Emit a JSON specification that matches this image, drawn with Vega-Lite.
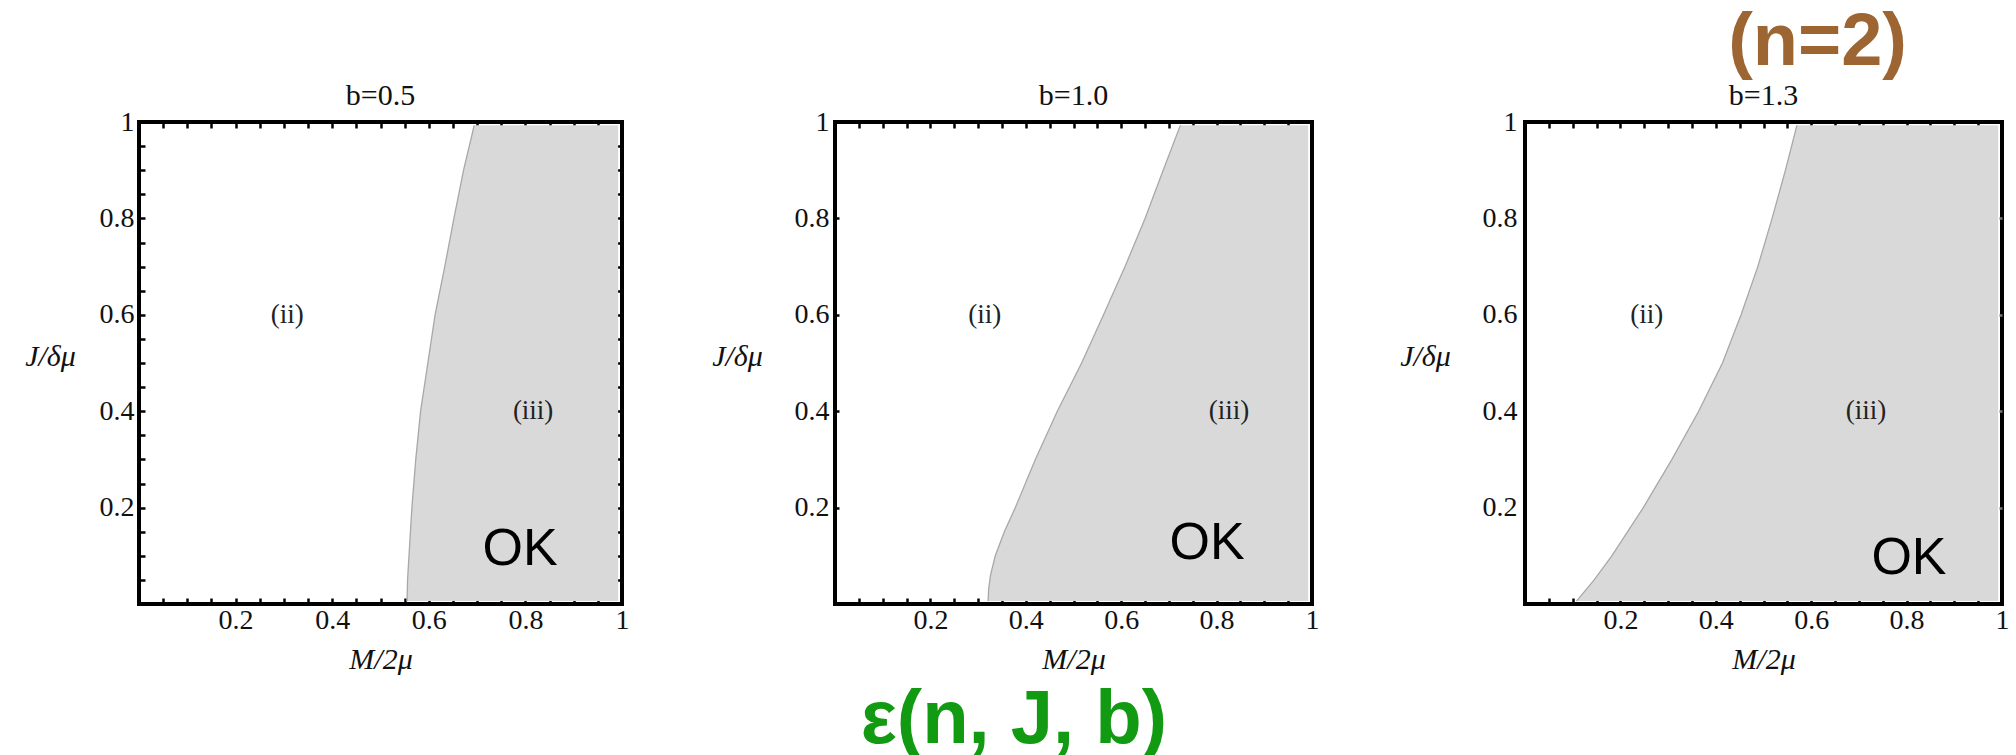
{
  "$schema": "https://vega.github.io/schema/vega-lite/v6.json",
  "padding": {"left": 22, "top": 6, "right": 0, "bottom": 0},
  "background": "white",
  "title": {
    "text": "(n=2)",
    "anchor": "end",
    "frame": "bounds",
    "dx": -104,
    "offset": -60,
    "baseline": "alphabetic",
    "font": "Liberation Sans",
    "fontWeight": "bold",
    "fontSize": 74,
    "color": "#9c6532"
  },
  "bounds": "flush",
  "spacing": 213,
  "config": {
    "view": {"stroke": "#000", "strokeWidth": 4},
    "axis": {
      "domain": false,
      "grid": false,
      "tickColor": "#000",
      "tickWidth": 2.5,
      "tickSize": -6,
      "labelFont": "Liberation Serif",
      "labelFontSize": 28,
      "labelColor": "#111",
      "labelFlush": false,
      "labelOverlap": false,
      "titleFont": "Liberation Serif",
      "titleFontSize": 30,
      "titleFontStyle": "italic",
      "titleFontWeight": "normal",
      "titleColor": "#111"
    },
    "title": {
      "font": "Liberation Serif",
      "fontSize": 30,
      "fontWeight": "normal",
      "color": "#111",
      "frame": "group",
      "baseline": "alphabetic",
      "offset": -3
    }
  },
  "datasets": {
    "boundary": [
      {"panel": "b=0.5", "J": 0.006, "M": 0.555},
      {"panel": "b=0.5", "J": 0.05, "M": 0.556},
      {"panel": "b=0.5", "J": 0.1, "M": 0.559},
      {"panel": "b=0.5", "J": 0.2, "M": 0.565},
      {"panel": "b=0.5", "J": 0.3, "M": 0.573},
      {"panel": "b=0.5", "J": 0.4, "M": 0.583},
      {"panel": "b=0.5", "J": 0.5, "M": 0.598},
      {"panel": "b=0.5", "J": 0.6, "M": 0.613},
      {"panel": "b=0.5", "J": 0.7, "M": 0.633},
      {"panel": "b=0.5", "J": 0.8, "M": 0.652},
      {"panel": "b=0.5", "J": 0.9, "M": 0.672},
      {"panel": "b=0.5", "J": 0.993, "M": 0.694},
      {"panel": "b=1.0", "J": 0.006, "M": 0.321},
      {"panel": "b=1.0", "J": 0.03, "M": 0.322},
      {"panel": "b=1.0", "J": 0.06, "M": 0.326},
      {"panel": "b=1.0", "J": 0.1, "M": 0.336},
      {"panel": "b=1.0", "J": 0.15, "M": 0.355},
      {"panel": "b=1.0", "J": 0.2, "M": 0.378},
      {"panel": "b=1.0", "J": 0.3, "M": 0.42},
      {"panel": "b=1.0", "J": 0.4, "M": 0.466},
      {"panel": "b=1.0", "J": 0.5, "M": 0.517},
      {"panel": "b=1.0", "J": 0.6, "M": 0.563},
      {"panel": "b=1.0", "J": 0.7, "M": 0.608},
      {"panel": "b=1.0", "J": 0.8, "M": 0.65},
      {"panel": "b=1.0", "J": 0.9, "M": 0.688},
      {"panel": "b=1.0", "J": 0.993, "M": 0.724},
      {"panel": "b=1.3", "J": 0.006, "M": 0.108},
      {"panel": "b=1.3", "J": 0.05, "M": 0.145},
      {"panel": "b=1.3", "J": 0.1, "M": 0.182},
      {"panel": "b=1.3", "J": 0.2, "M": 0.248},
      {"panel": "b=1.3", "J": 0.3, "M": 0.308},
      {"panel": "b=1.3", "J": 0.4, "M": 0.364},
      {"panel": "b=1.3", "J": 0.5, "M": 0.414},
      {"panel": "b=1.3", "J": 0.6, "M": 0.453},
      {"panel": "b=1.3", "J": 0.7, "M": 0.488},
      {"panel": "b=1.3", "J": 0.8, "M": 0.518},
      {"panel": "b=1.3", "J": 0.9, "M": 0.546},
      {"panel": "b=1.3", "J": 0.993, "M": 0.57}
    ],
    "regions": [
      {"panel": "b=0.5", "label": "(ii)", "M": 0.307, "J": 0.6},
      {"panel": "b=0.5", "label": "(iii)", "M": 0.816, "J": 0.4},
      {"panel": "b=1.0", "label": "(ii)", "M": 0.314, "J": 0.6},
      {"panel": "b=1.0", "label": "(iii)", "M": 0.826, "J": 0.4},
      {"panel": "b=1.3", "label": "(ii)", "M": 0.255, "J": 0.6},
      {"panel": "b=1.3", "label": "(iii)", "M": 0.715, "J": 0.4}
    ],
    "verdicts": [
      {"panel": "b=0.5", "label": "OK", "M": 0.789, "J": 0.114},
      {"panel": "b=1.0", "label": "OK", "M": 0.78, "J": 0.127},
      {"panel": "b=1.3", "label": "OK", "M": 0.805, "J": 0.095}
    ],
    "notes": [
      {"note": "ε(n, J, b)", "panel": "b=1.0"}
    ]
  },
  "hconcat": [
    {
      "width": 483,
      "height": 482,
      "title": "b=0.5",
      "resolve": {"axis": {"x": "independent", "y": "independent"}},
      "layer": [
        {
          "data": {"name": "boundary"},
          "transform": [{"filter": "datum.panel == 'b=0.5'"}],
          "mark": {"type": "area", "orient": "horizontal", "color": "#d9d9d9"},
          "encoding": {
            "y": {"field": "J", "type": "quantitative", "scale": {"domain": [0, 1], "nice": false, "zero": false},
              "axis": {"orient": "left", "values": [0.05, 0.1, 0.15, 0.2, 0.25, 0.3, 0.35, 0.4, 0.45, 0.5, 0.55, 0.6, 0.65, 0.7, 0.75, 0.8, 0.85, 0.9, 0.95, 1],
                "labelExpr": "abs(datum.value * 5 - round(datum.value * 5)) > 0.01 ? '' : (datum.value > 0.99 ? '1' : format(datum.value, '.1f'))",
                "labelPadding": 11, "title": "J/δμ", "titleAngle": 0, "titleAlign": "center", "titleBaseline": "alphabetic", "titleX": -89, "titleY": 243}},
            "x": {"field": "M", "type": "quantitative", "scale": {"domain": [0, 1], "nice": false, "zero": false},
              "axis": {"orient": "bottom", "values": [0.05, 0.1, 0.15, 0.2, 0.25, 0.3, 0.35, 0.4, 0.45, 0.5, 0.55, 0.6, 0.65, 0.7, 0.75, 0.8, 0.85, 0.9, 0.95, 1],
                "labelExpr": "abs(datum.value * 5 - round(datum.value * 5)) > 0.01 ? '' : (datum.value > 0.99 ? '1' : format(datum.value, '.1f'))",
                "labelPadding": 8, "labelBaseline": "top", "title": "M/2μ", "titleBaseline": "alphabetic", "titleY": 64}},
            "x2": {"datum": 0.992}
          }
        },
        {
          "data": {"name": "boundary"},
          "transform": [{"filter": "datum.panel == 'b=0.5'"}],
          "mark": {"type": "line", "color": "#a8a8a8", "strokeWidth": 1.3},
          "encoding": {
            "y": {"field": "J", "type": "quantitative",
              "axis": {"orient": "right", "labels": false, "title": null, "values": [0.05, 0.1, 0.15, 0.2, 0.25, 0.3, 0.35, 0.4, 0.45, 0.5, 0.55, 0.6, 0.65, 0.7, 0.75, 0.8, 0.85, 0.9, 0.95]}},
            "x": {"field": "M", "type": "quantitative",
              "axis": {"orient": "top", "labels": false, "title": null, "values": [0.05, 0.1, 0.15, 0.2, 0.25, 0.3, 0.35, 0.4, 0.45, 0.5, 0.55, 0.6, 0.65, 0.7, 0.75, 0.8, 0.85, 0.9, 0.95]}},
            "order": {"field": "J"}
          }
        },
        {
          "data": {"name": "regions"},
          "transform": [{"filter": "datum.panel == 'b=0.5'"}],
          "mark": {"type": "text", "font": "Liberation Serif", "fontSize": 27, "color": "#222", "baseline": "middle"},
          "encoding": {
            "x": {"field": "M", "type": "quantitative", "axis": null},
            "y": {"field": "J", "type": "quantitative", "axis": null},
            "text": {"field": "label"}
          }
        },
        {
          "data": {"name": "verdicts"},
          "transform": [{"filter": "datum.panel == 'b=0.5'"}],
          "mark": {"type": "text", "font": "Liberation Sans", "fontSize": 52, "color": "#000", "baseline": "middle"},
          "encoding": {
            "x": {"field": "M", "type": "quantitative", "axis": null},
            "y": {"field": "J", "type": "quantitative", "axis": null},
            "text": {"field": "label"}
          }
        }
      ]
    },
    {
      "width": 477,
      "height": 482,
      "title": "b=1.0",
      "resolve": {"axis": {"x": "independent", "y": "independent"}},
      "layer": [
        {
          "data": {"name": "boundary"},
          "transform": [{"filter": "datum.panel == 'b=1.0'"}],
          "mark": {"type": "area", "orient": "horizontal", "color": "#d9d9d9"},
          "encoding": {
            "y": {"field": "J", "type": "quantitative", "scale": {"domain": [0, 1], "nice": false, "zero": false},
              "axis": {"orient": "left", "values": [0.2, 0.4, 0.6, 0.8, 1], "tickSize": -4,
                "labelExpr": "datum.value > 0.99 ? '1' : format(datum.value, '.1f')",
                "labelPadding": 10, "title": "J/δμ", "titleAngle": 0, "titleAlign": "center", "titleBaseline": "alphabetic", "titleX": -98, "titleY": 243}},
            "x": {"field": "M", "type": "quantitative", "scale": {"domain": [0, 1], "nice": false, "zero": false},
              "axis": {"orient": "bottom", "values": [0.05, 0.1, 0.15, 0.2, 0.25, 0.3, 0.35, 0.4, 0.45, 0.5, 0.55, 0.6, 0.65, 0.7, 0.75, 0.8, 0.85, 0.9, 0.95, 1],
                "labelExpr": "abs(datum.value * 5 - round(datum.value * 5)) > 0.01 ? '' : (datum.value > 0.99 ? '1' : format(datum.value, '.1f'))",
                "labelPadding": 8, "labelBaseline": "top", "title": "M/2μ", "titleBaseline": "alphabetic", "titleY": 64}},
            "x2": {"datum": 0.992}
          }
        },
        {
          "data": {"name": "boundary"},
          "transform": [{"filter": "datum.panel == 'b=1.0'"}],
          "mark": {"type": "line", "color": "#a8a8a8", "strokeWidth": 1.3},
          "encoding": {
            "y": {"field": "J", "type": "quantitative", "axis": null},
            "x": {"field": "M", "type": "quantitative",
              "axis": {"orient": "top", "labels": false, "title": null, "values": [0.05, 0.1, 0.15, 0.2, 0.25, 0.3, 0.35, 0.4, 0.45, 0.5, 0.55, 0.6, 0.65, 0.7, 0.75, 0.8, 0.85, 0.9, 0.95]}},
            "order": {"field": "J"}
          }
        },
        {
          "data": {"name": "regions"},
          "transform": [{"filter": "datum.panel == 'b=1.0'"}],
          "mark": {"type": "text", "font": "Liberation Serif", "fontSize": 27, "color": "#222", "baseline": "middle"},
          "encoding": {
            "x": {"field": "M", "type": "quantitative", "axis": null},
            "y": {"field": "J", "type": "quantitative", "axis": null},
            "text": {"field": "label"}
          }
        },
        {
          "data": {"name": "verdicts"},
          "transform": [{"filter": "datum.panel == 'b=1.0'"}],
          "mark": {"type": "text", "font": "Liberation Sans", "fontSize": 52, "color": "#000", "baseline": "middle"},
          "encoding": {
            "x": {"field": "M", "type": "quantitative", "axis": null},
            "y": {"field": "J", "type": "quantitative", "axis": null},
            "text": {"field": "label"}
          }
        },
        {
          "data": {"name": "notes"},
          "transform": [{"filter": "datum.panel == 'b=1.0'"}],
          "mark": {"type": "text", "font": "Liberation Sans", "fontWeight": "bold", "fontSize": 76, "color": "#129a12", "baseline": "alphabetic"},
          "encoding": {
            "x": {"datum": 0.375, "type": "quantitative", "axis": null},
            "y": {"datum": -0.288, "type": "quantitative", "axis": null},
            "text": {"field": "note"}
          }
        }
      ]
    },
    {
      "width": 477,
      "height": 482,
      "title": "b=1.3",
      "resolve": {"axis": {"x": "independent", "y": "independent"}},
      "layer": [
        {
          "data": {"name": "boundary"},
          "transform": [{"filter": "datum.panel == 'b=1.3'"}],
          "mark": {"type": "area", "orient": "horizontal", "color": "#d9d9d9"},
          "encoding": {
            "y": {"field": "J", "type": "quantitative", "scale": {"domain": [0, 1], "nice": false, "zero": false},
              "axis": {"orient": "left", "values": [0.2, 0.4, 0.6, 0.8, 1], "ticks": false,
                "labelExpr": "datum.value > 0.99 ? '1' : format(datum.value, '.1f')",
                "labelPadding": 8, "title": "J/δμ", "titleAngle": 0, "titleAlign": "center", "titleBaseline": "alphabetic", "titleX": -100, "titleY": 243}},
            "x": {"field": "M", "type": "quantitative", "scale": {"domain": [0, 1], "nice": false, "zero": false},
              "axis": {"orient": "bottom", "values": [0.05, 0.1, 0.15, 0.2, 0.25, 0.3, 0.35, 0.4, 0.45, 0.5, 0.55, 0.6, 0.65, 0.7, 0.75, 0.8, 0.85, 0.9, 0.95, 1],
                "labelExpr": "abs(datum.value * 5 - round(datum.value * 5)) > 0.01 ? '' : (datum.value > 0.99 ? '1' : format(datum.value, '.1f'))",
                "labelPadding": 8, "labelBaseline": "top", "title": "M/2μ", "titleBaseline": "alphabetic", "titleY": 64}},
            "x2": {"datum": 0.992}
          }
        },
        {
          "data": {"name": "boundary"},
          "transform": [{"filter": "datum.panel == 'b=1.3'"}],
          "mark": {"type": "line", "color": "#a8a8a8", "strokeWidth": 1.3},
          "encoding": {
            "y": {"field": "J", "type": "quantitative",
              "axis": {"orient": "right", "labels": false, "title": null, "tickSize": -3, "tickColor": "#777", "values": [0.2, 0.4, 0.6, 0.8]}},
            "x": {"field": "M", "type": "quantitative",
              "axis": {"orient": "top", "labels": false, "title": null, "values": [0.05, 0.1, 0.15, 0.2, 0.25, 0.3, 0.35, 0.4, 0.45, 0.5, 0.55, 0.6, 0.65, 0.7, 0.75, 0.8, 0.85, 0.9, 0.95]}},
            "order": {"field": "J"}
          }
        },
        {
          "data": {"name": "regions"},
          "transform": [{"filter": "datum.panel == 'b=1.3'"}],
          "mark": {"type": "text", "font": "Liberation Serif", "fontSize": 27, "color": "#222", "baseline": "middle"},
          "encoding": {
            "x": {"field": "M", "type": "quantitative", "axis": null},
            "y": {"field": "J", "type": "quantitative", "axis": null},
            "text": {"field": "label"}
          }
        },
        {
          "data": {"name": "verdicts"},
          "transform": [{"filter": "datum.panel == 'b=1.3'"}],
          "mark": {"type": "text", "font": "Liberation Sans", "fontSize": 52, "color": "#000", "baseline": "middle"},
          "encoding": {
            "x": {"field": "M", "type": "quantitative", "axis": null},
            "y": {"field": "J", "type": "quantitative", "axis": null},
            "text": {"field": "label"}
          }
        }
      ]
    }
  ]
}
